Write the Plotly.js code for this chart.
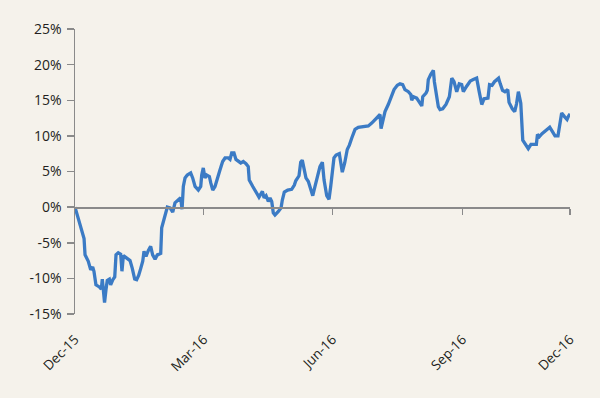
<!DOCTYPE html>
<html>
<head>
<meta charset="utf-8">
<script src="https://cdn.plot.ly/plotly-3.0.1.min.js"></script>
<style>html,body{margin:0;padding:0;background:#f5f2eb;}#chart{width:600px;height:398px;}</style>
</head>
<body>
<div id="chart"></div>
<script>
// Days elapsed since 31 Dec 2015
const days = [0,2.3,5.4,6.4,7.1,9.4,11.1,12.5,13.4,14.8,17.2,18.6,19.3,20.0,20.9,21.9,22.8,24.3,25.2,26.7,28.1,29.0,30.6,32.3,33.2,34.2,36.6,38.9,40.5,42.2,43.6,45.0,46.5,47.9,48.8,50.2,51.8,53.5,54.9,56.6,58.2,60.6,61.3,63.6,65.3,67.2,69.1,70.7,73.0,74.7,75.7,76.6,77.8,79.4,81.8,83.2,84.9,87.2,88.9,89.6,90.7,91.9,93.1,95.0,96.0,97.4,99.0,100.6,102.5,104.4,106.1,108.4,109.6,110.8,112.4,113.8,115.5,117.2,119.0,120.9,122.5,123.2,125.7,128.5,130.1,132.5,133.7,135.1,136.7,137.9,139.1,140.2,141.4,143.8,145.7,146.6,148.0,150.4,153.2,155.1,156.1,158.4,159.6,160.7,161.9,163.3,165.0,166.2,168.1,169.7,171.6,173.2,174.9,176.1,178.0,179.6,180.8,182.2,183.1,184.6,186.9,189.0,190.7,192.5,194.0,195.7,198.0,200.3,202.7,207.4,209.8,214.5,215.7,216.4,218.0,219.2,221.5,223.9,225.6,227.9,229.8,231.7,233.3,235.7,237.4,238.1,239.2,241.6,243.5,245.2,245.9,248.2,249.1,249.8,251.5,253.4,254.1,255.6,256.9,258.1,260.0,262.3,264.7,266.4,268.0,269.9,271.7,273.4,274.6,276.7,279.5,281.6,284.0,285.9,287.6,289.2,292.0,293.1,294.9,296.6,298.4,299.5,300.7,302.3,304.0,306.0,306.9,309.2,310.9,312.2,313.5,315.2,316.6,318.9,320.5,322.4,323.9,326.2,327.0,328.4,330.2,332.7,335.7,337.6,339.4,341.5,342.7,344.1,346.1,347.9,349.0,350.0];
// Cumulative return, %
const returns = [0.0,-1.5,-3.7,-4.4,-6.7,-7.6,-8.8,-8.4,-9.0,-10.9,-11.2,-11.5,-10.1,-11.5,-13.4,-11.6,-10.3,-10.1,-10.9,-10.2,-9.8,-6.7,-6.4,-6.6,-9.0,-6.8,-7.1,-7.5,-8.6,-10.1,-10.2,-9.6,-8.6,-7.6,-6.2,-6.9,-6.1,-5.5,-6.7,-7.3,-6.7,-6.5,-2.9,-1.4,0.0,-0.1,-0.7,0.6,1.0,1.3,-0.3,2.9,4.1,4.5,4.8,4.1,2.9,2.4,2.9,4.5,5.5,4.1,4.5,4.3,3.4,2.4,2.9,3.8,5.2,6.4,6.9,6.9,6.7,7.6,7.6,6.7,6.4,6.2,6.4,6.1,5.7,3.8,2.9,2.0,1.4,2.2,1.3,1.6,0.8,1.3,0.8,-0.8,-1.1,-0.6,-0.1,1.0,2.1,2.4,2.5,3.1,3.7,4.4,6.3,6.6,5.2,4.1,3.6,2.9,1.6,2.9,4.3,5.7,6.3,3.8,1.6,1.1,2.9,5.2,6.9,7.3,7.5,4.9,6.2,8.1,8.7,9.7,10.9,11.2,11.3,11.4,11.8,12.8,13.0,11.0,12.3,13.4,14.4,15.5,16.5,17.1,17.3,17.2,16.5,16.2,15.8,15.0,15.5,15.3,14.8,14.2,15.5,16.0,16.4,17.9,18.6,19.2,17.6,15.5,14.1,13.7,13.8,14.4,15.5,18.1,17.6,16.2,17.3,17.2,16.2,16.9,17.7,17.9,18.1,16.1,14.4,15.2,15.3,17.2,17.1,17.6,18.0,18.1,17.3,16.4,16.2,16.5,14.7,13.8,13.4,14.5,16.2,14.6,9.4,8.7,8.2,8.8,8.8,8.8,10.2,9.9,10.3,10.7,11.2,10.6,10.0,10.0,11.6,13.2,12.7,12.3,12.8,13.1];
// Axis ticks
const xTickVals = [0, 91, 182, 274, 350];
const xTickText = ['Dec-15', 'Mar-16', 'Jun-16', 'Sep-16', 'Dec-16'];
const yTickVals = [-15, -10, -5, 0, 5, 10, 15, 20, 25];
const yTickText = ['-15%', '-10%', '-5%', '0%', '5%', '10%', '15%', '20%', '25%'];

const bg = '#f5f2eb';
const axisGrey = '#8a8a8a';
const fontFam = '"Open Sans", "Noto Sans", sans-serif';

const traces = [
  {x: days, y: returns, type: 'scatter', mode: 'lines',
   line: {color: '#3b7bc5', width: 3.3}, hoverinfo: 'skip', xaxis: 'x', yaxis: 'y'},
  {x: [days[0], days[days.length-1]], y: [0, 0], type: 'scatter', mode: 'lines',
   line: {width: 0}, hoverinfo: 'skip', xaxis: 'x2', yaxis: 'y', showlegend: false}
];

const layout = {
  width: 600, height: 398,
  paper_bgcolor: bg, plot_bgcolor: bg,
  margin: {l: 75, r: 30, t: 29, b: 84},
  showlegend: false,
  hovermode: false,
  font: {family: fontFam, size: 14, color: '#231f20'},
  xaxis: {
    range: [0, 350], tickvals: xTickVals, ticktext: xTickText,
    tickangle: -45, ticks: '', showline: false, showgrid: false, zeroline: false,
    ticklabelstandoff: 14, tickfont: {size: 13.5, color: '#231f20'}
  },
  xaxis2: {
    range: [0, 350], overlaying: 'x', anchor: 'free', position: 0.375,
    tickvals: xTickVals.slice(1), ticks: 'outside', ticklen: 6, tickwidth: 1.5, tickcolor: axisGrey,
    showline: true, linecolor: axisGrey, linewidth: 1.5,
    showticklabels: false, showgrid: false, zeroline: false
  },
  yaxis: {
    range: [-15, 25], tickvals: yTickVals, ticktext: yTickText,
    ticks: 'outside', ticklen: 7, tickwidth: 1.5, tickcolor: axisGrey,
    showline: true, linecolor: axisGrey, linewidth: 1.5,
    showgrid: false, zeroline: false, tickfont: {size: 14, color: '#231f20'},
    ticklabelstandoff: 2
  }
};

Plotly.newPlot('chart', traces, layout, {staticPlot: true, displayModeBar: false});
</script>
</body>
</html>
